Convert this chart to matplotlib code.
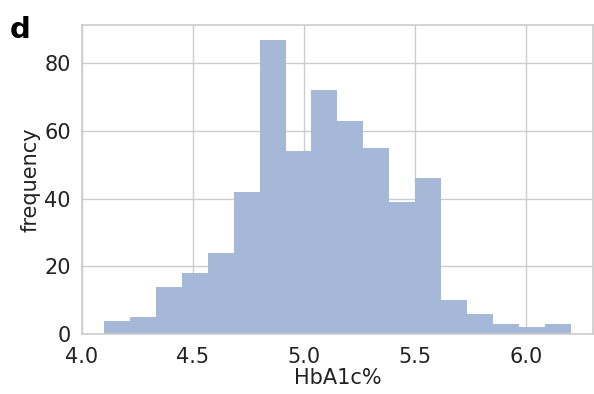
import numpy as np
import matplotlib
matplotlib.use("Agg")
import matplotlib.pyplot as plt
import seaborn as sns

# histogram of HbA1c%, 18 bins from 4.1 to 6.2
bin_lo = 4.1
bin_hi = 6.2
counts = [4, 5, 14, 18, 24, 42, 87, 54, 72, 63, 55, 39, 46, 10, 6, 3, 2, 3]
xticks = [4.0, 4.5, 5.0, 5.5, 6.0]
yticks = [0, 20, 40, 60, 80]

sns.set_style("whitegrid")
plt.rcParams["font.family"] = ["DejaVu Sans"]

edges = np.linspace(bin_lo, bin_hi, len(counts) + 1)
centers = (edges[:-1] + edges[1:]) / 2

fig = plt.figure(figsize=(5.94, 3.94), dpi=100)
ax = fig.add_axes([0.138, 0.152, 0.860, 0.785])

ax.hist(centers, bins=edges, weights=counts, color="#a5b8d7",
        edgecolor="none", linewidth=0)

ax.set_xlim(4.0, 6.3)
ax.set_xticks(xticks)
ax.set_yticks(yticks)
ax.tick_params(labelsize=15, length=0, labelcolor="#222222")
ax.tick_params(axis="x", pad=9)
ax.tick_params(axis="y", pad=8)
ax.set_xlabel("HbA1c%", fontsize=15, labelpad=1, color="#222222")
ax.set_ylabel("frequency", fontsize=15, labelpad=3, color="#222222")
ax.grid(color="#cccccc", linewidth=1)
for s in ax.spines.values():
    s.set_color("#cccccc")
    s.set_linewidth(1.2)

fig.text(0.017, 0.96, "d", fontsize=21, fontweight="bold", color="black",
         va="top", ha="left")

fig.savefig("out.png", dpi=100)
